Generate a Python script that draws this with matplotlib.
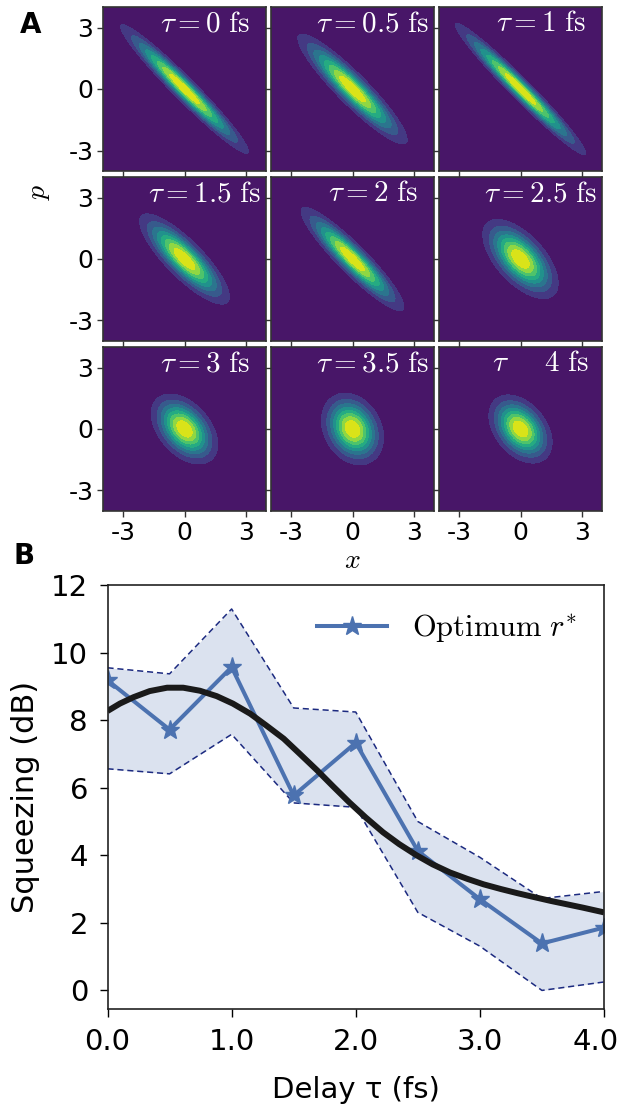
import matplotlib
matplotlib.use("Agg")
import matplotlib.pyplot as plt
import matplotlib.transforms as mtransforms
import numpy as np

plt.rcParams['mathtext.fontset'] = 'cm'
plt.rcParams['axes.unicode_minus'] = False
plt.rcParams['font.family'] = 'DejaVu Sans'

# panel A: squeezed-state quasi-distributions (outer contour semi-axes, tilt)
tau_fs = ['0', '0.5', '1', '1.5', '2', '2.5', '3', '3.5', '4']
semi_major = [4.4, 3.72, 4.5, 2.98, 3.5, 2.4, 2.0, 1.85, 1.9]
semi_minor = [0.55, 0.75, 0.5, 0.9, 0.7, 1.18, 1.25, 1.4, 1.25]
tilt_deg = [-45, -45, -45, -45, -45, -47, -48, -60, -50]

# panel B: squeezing vs delay
delay = [0, 0.5, 1.0, 1.5, 2.0, 2.5, 3.0, 3.5, 4.0]
sq_opt = [9.18, 7.72, 9.57, 5.77, 7.33, 4.13, 2.70, 1.39, 1.86]
sq_upper = [9.55, 9.37, 11.29, 8.36, 8.24, 5.0, 3.94, 2.72, 2.93]
sq_lower = [6.56, 6.41, 7.58, 5.55, 5.42, 2.31, 1.31, 0.0, 0.25]
# black fitted curve
fit_delay = [0, 0.10, 0.21, 0.34, 0.48, 0.61, 0.745, 0.88, 1.01, 1.15, 1.28,
             1.42, 1.55, 1.69, 1.82, 1.95, 2.08, 2.22, 2.35, 2.49, 2.62, 2.76,
             2.9, 3.03, 3.17, 3.30, 3.44, 3.57, 3.70, 3.83, 4.0]
fit_sq = [8.27, 8.49, 8.68, 8.86, 8.96, 8.96, 8.87, 8.71, 8.49, 8.19, 7.84,
          7.45, 7.0, 6.51, 6.03, 5.56, 5.12, 4.68, 4.33, 4.0, 3.73, 3.49,
          3.30, 3.14, 3.0, 2.88, 2.76, 2.65, 2.55, 2.45, 2.31]

W, H = 621, 1114
fig = plt.figure(figsize=(W / 100, H / 100), dpi=100)

col_left = [103, 271, 439]
row_top = [7, 177, 347]
pw, ph = 163, 164

grid = np.linspace(-4, 4, 400)
X, P = np.meshgrid(grid, grid)
levels = np.linspace(0, 1, 10)
r_edge = np.sqrt(2 * np.log(1 / levels[1]))

for k in range(9):
    r, c = divmod(k, 3)
    ax = fig.add_axes([col_left[c] / W, 1 - (row_top[r] + ph) / H, pw / W, ph / H])
    th = np.deg2rad(tilt_deg[k])
    sa = semi_major[k] / r_edge
    sb = semi_minor[k] / r_edge
    u = X * np.cos(th) + P * np.sin(th)
    v = -X * np.sin(th) + P * np.cos(th)
    Z = np.exp(-0.5 * (u**2 / sa**2 + v**2 / sb**2))
    ax.contourf(X, P, Z, levels=levels, cmap='viridis')
    ax.set_xlim(-4, 4)
    ax.set_ylim(-4, 4)
    ax.set_xticks([-3, 0, 3])
    ax.set_yticks([-3, 0, 3])
    ax.set_xticklabels(['-3', '0', '3'] if r == 2 else [])
    ax.set_yticklabels(['-3', '0', '3'] if c == 0 else [])
    ax.tick_params(direction='out', length=4, width=1, color='#333333',
                   labelsize=18, pad=3)
    for s in ax.spines.values():
        s.set_color('#333333')
        s.set_linewidth(1.2)
    if tau_fs[k] == '4':
        label = r'$\tau\quad\;\;4\ \mathrm{fs}$'
    else:
        label = r'$\tau = %s\ \mathrm{fs}$' % tau_fs[k]
    ax.text(0.625, 0.852, label, transform=ax.transAxes, color='white',
            fontsize=21, ha='center', va='baseline')

fig.text(38 / W, 1 - 192 / H, r'$p$', fontsize=20, rotation=90,
         ha='center', va='center')
fig.text(352 / W, 1 - 560 / H, r'$x$', fontsize=20, ha='center', va='center')
fig.text(31 / W, 1 - 25 / H, 'A', fontsize=20, fontweight='bold',
         ha='center', va='center')
fig.text(24 / W, 1 - 556 / H, 'B', fontsize=20, fontweight='bold',
         ha='center', va='center')

# panel B
axb = fig.add_axes([107.5 / W, 1 - 1009 / H, 496.5 / W, 424 / H])
blue = '#4C72B0'
axb.fill_between(delay, sq_lower, sq_upper, color=blue, alpha=0.2, lw=0)
axb.plot(delay, sq_upper, '--', color='#1c2a80', lw=1.1, dashes=(4, 2.5))
axb.plot(delay, sq_lower, '--', color='#1c2a80', lw=1.1, dashes=(4, 2.5))
axb.plot(delay, sq_opt, '-*', color=blue, lw=2.9, ms=14,
         label=r'$\mathrm{Optimum}\ r^{*}$')
axb.plot(fit_delay, fit_sq, '-', color='#1a1a1a', lw=4.3,
         solid_capstyle='butt')
axb.set_xlim(0, 4)
axb.set_ylim(-0.55, 12)
axb.set_xticks([0, 1, 2, 3, 4])
axb.set_xticklabels(['0.0', '1.0', '2.0', '3.0', '4.0'])
axb.set_yticks([0, 2, 4, 6, 8, 10, 12])
axb.tick_params(direction='out', length=6, width=1, labelsize=21, pad=8)
for s in axb.spines.values():
    s.set_color('#222222')
    s.set_linewidth(1.2)
# keep the last tick label inside the figure edge
last = axb.get_xticklabels()[-1]
last.set_transform(last.get_transform() +
                   mtransforms.ScaledTranslation(-8 / 100, 0, fig.dpi_scale_trans))
axb.set_xlabel('Delay τ (fs)', fontsize=21, labelpad=14)
axb.set_ylabel('Squeezing (dB)', fontsize=22, labelpad=8)
axb.legend(loc='upper right', frameon=False, fontsize=22, numpoints=1,
           handlelength=2.3)

fig.savefig('out.png', dpi=100)
